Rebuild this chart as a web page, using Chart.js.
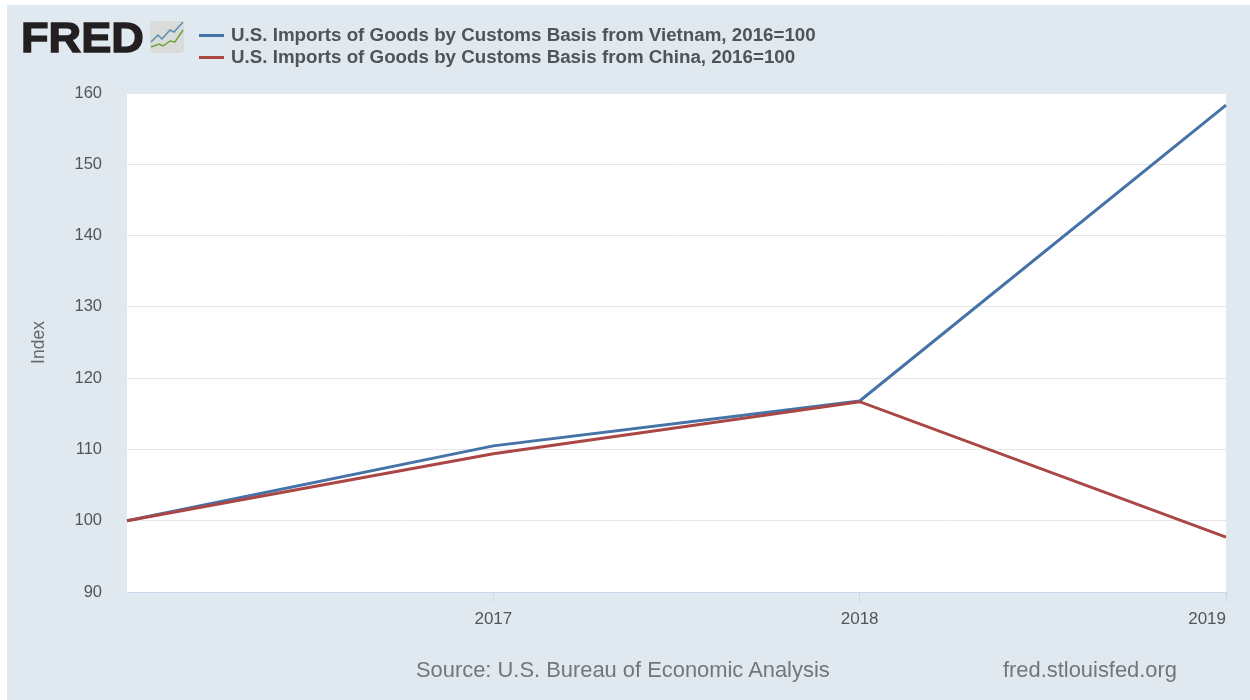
<!DOCTYPE html>
<html>
<head>
<meta charset="utf-8">
<title>FRED</title>
<script src="https://cdn.jsdelivr.net/npm/chart.js@4"></script>
<style>
html, body { margin: 0; padding: 0; background: #fff; }
body { width: 1250px; height: 700px; overflow: hidden; position: relative; font-family: "Liberation Sans", Arial, sans-serif; }
#panel { position: absolute; left: 7px; top: 5px; right: 0; bottom: 0; background: #e1e9f0; }
#wrap { position: absolute; left: 0; top: 0; width: 1250px; height: 700px; }
#logo { position: absolute; left: 21px; top: 12px; font-size: 43px; line-height: 50px; font-weight: bold; color: #231f20; -webkit-text-stroke: 1.4px #231f20; transform: scaleX(1.05); transform-origin: left center; }
#icon { position: absolute; left: 150px; top: 21px; }
#legend { position: absolute; left: 199px; top: 24px; font-size: 18.75px; line-height: 22px; font-weight: bold; color: #4f5459; }
#legend div { position: relative; padding-left: 32px; white-space: nowrap; height: 22px; }
#legend i { position: absolute; left: 0; top: 10px; width: 25px; height: 3px; }
.note { position: absolute; top: 657px; font-size: 21.9px; line-height: 25px; color: #747678; white-space: nowrap; }
</style>
</head>
<body>
<div id="panel"></div>
<div id="wrap"><canvas id="chart" width="1250" height="700"></canvas></div>
<div id="logo">FRED</div>
<svg id="icon" width="34" height="32">
    <rect width="34" height="32" rx="4" fill="#d9dcd8"/>
    <polyline points="1,21 8,14 12,18 20,9 24,11 33,1" fill="none" stroke="#5a8db5" stroke-width="1.5"/>
    <polyline points="1,26 9,23 13,25 20,20 25,21 33,9" fill="none" stroke="#6fa343" stroke-width="1.5"/>
</svg>
<div id="legend"></div>
<div class="note" style="left:416px">Source: U.S. Bureau of Economic Analysis</div>
<div class="note" style="left:1003px">fred.stlouisfed.org</div>
<script>
var years = ['2016', '2017', '2018', '2019'];
var vietnam = [100, 110.5, 116.8, 158.3];
var china = [100, 109.4, 116.7, 97.7];
var vietnamName = 'U.S. Imports of Goods by Customs Basis from Vietnam, 2016=100';
var chinaName = 'U.S. Imports of Goods by Customs Basis from China, 2016=100';
var yTicks = [90, 100, 110, 120, 130, 140, 150, 160];

// white plot area, last year label sits inside the plot edge
var plotPlugin = {
    id: 'plotPlugin',
    beforeDraw: function(chart) {
        var a = chart.chartArea;
        chart.ctx.save();
        chart.ctx.fillStyle = '#ffffff';
        chart.ctx.fillRect(a.left, a.top, a.right - a.left, a.bottom - a.top);
        chart.ctx.restore();

        var items = chart.scales.x.getLabelItems(a);
        var last = items[items.length - 1];
        if (last) {
            last.options.textAlign = 'right';
        }
    }
};

var chart = new Chart(document.getElementById('chart'), {
    type: 'line',
    data: {
        labels: years,
        datasets: [{
            label: vietnamName,
            data: vietnam,
            borderColor: '#4572a7',
            borderWidth: 3,
            pointRadius: 0,
            tension: 0,
            order: 1
        }, {
            label: chinaName,
            data: china,
            borderColor: '#aa4643',
            borderWidth: 3,
            pointRadius: 0,
            tension: 0,
            order: 0
        }]
    },
    options: {
        responsive: false,
        animation: false,
        layout: { padding: { left: 0, top: 93, right: 24, bottom: 0 } },
        plugins: { legend: { display: false }, tooltip: { enabled: false } },
        scales: {
            x: {
                afterFit: function(scale) {
                    scale.height = 108;
                    scale.paddingRight = 0;
                    scale.paddingLeft = 0;
                },
                offset: false,
                border: { color: '#ccd6eb', width: 1 },
                grid: {
                    drawOnChartArea: false,
                    drawTicks: true,
                    tickLength: 10,
                    tickWidth: 1,
                    tickColor: function(ctx) { return ctx.index === 0 ? 'rgba(0,0,0,0)' : '#ccd6eb'; }
                },
                ticks: {
                    autoSkip: false,
                    maxRotation: 0,
                    padding: 7,
                    color: '#555555',
                    font: { family: '"Liberation Sans", Arial, sans-serif', size: 17 },
                    callback: function(value, index) { return index === 0 ? '' : years[index]; }
                }
            },
            y: {
                min: 90,
                max: 160,
                afterFit: function(scale) { scale.width = 127; },
                afterBuildTicks: function(scale) {
                    scale.ticks = yTicks.map(function(v) { return { value: v }; });
                },
                border: { display: false },
                grid: { color: '#e6e6e6', lineWidth: 1, drawTicks: false },
                ticks: {
                    padding: 25,
                    color: '#555555',
                    font: { family: '"Liberation Sans", Arial, sans-serif', size: 16.5 }
                },
                title: {
                    display: true,
                    text: 'Index',
                    color: '#666666',
                    font: { family: '"Liberation Sans", Arial, sans-serif', size: 17.5 },
                    padding: { top: 29, bottom: 0 }
                }
            }
        }
    },
    plugins: [plotPlugin]
});

// legend built from the datasets, in reading order
chart.data.datasets.forEach(function(ds) {
    var row = document.createElement('div');
    var swatch = document.createElement('i');
    swatch.style.background = ds.borderColor;
    row.appendChild(swatch);
    row.appendChild(document.createTextNode(ds.label));
    document.getElementById('legend').appendChild(row);
});
</script>
</body>
</html>
